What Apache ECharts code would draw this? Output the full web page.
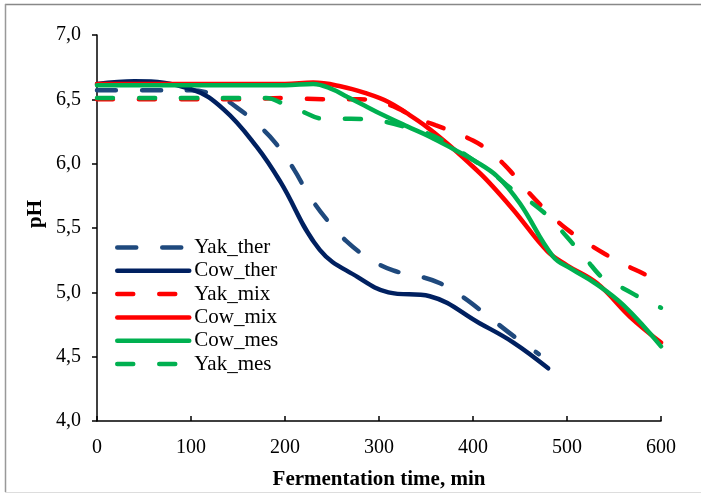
<!DOCTYPE html>
<html>
<head>
<meta charset="utf-8">
<script src="https://cdn.jsdelivr.net/npm/echarts@6/dist/echarts.min.js"></script>
<style>
html,body{margin:0;padding:0;background:#fff;}
#c{width:701px;height:495px;}
</style>
</head>
<body>
<div id="c"></div>
<script>
var seriesNames = ['Yak_ther','Cow_ther','Yak_mix','Cow_mix','Cow_mes','Yak_mes'];
var yakTher = [[0,6.57],[50,6.57],[100,6.57],[130,6.52],[150,6.43],[170,6.31],[190,6.16],[210,5.95],[225,5.76],[245,5.56],[265,5.40],[290,5.26],[315,5.17],[340,5.13],[365,5.07],[390,4.96],[415,4.82],[445,4.65],[470,4.52]];
var cowTher = [[0,6.62],[40,6.64],[100,6.58],[135,6.42],[170,6.13],[195,5.86],[237,5.33],[277,5.12],[310,5.00],[354,4.97],[407,4.76],[443,4.61],[480,4.41]];
var yakMix = [[0,6.50],[100,6.50],[150,6.50],[200,6.51],[240,6.50],[280,6.50],[300,6.48],[320,6.43],[340,6.35],[360,6.30],[400,6.18],[420,6.08],[440,5.94],[460,5.77],[480,5.62],[500,5.49],[520,5.39],[540,5.30],[560,5.22],[580,5.15],[600,5.08]];
var cowMix = [[0,6.62],[50,6.62],[100,6.62],[150,6.62],[200,6.62],[230,6.63],[260,6.60],[285,6.55],[310,6.48],[330,6.39],[350,6.29],[372,6.16],[395,6.01],[415,5.87],[443,5.64],[479,5.32],[500,5.21],[532,5.07],[567,4.81],[600,4.61]];
var cowMes = [[0,6.61],[100,6.61],[200,6.61],[230,6.62],[250,6.58],[266,6.52],[285,6.45],[301,6.39],[330,6.29],[354,6.21],[380,6.11],[400,6.03],[426,5.90],[450,5.69],[485,5.28],[505,5.18],[530,5.07],[560,4.90],[600,4.58]];
var yakMes = [[0,6.51],[50,6.51],[100,6.51],[150,6.51],[180,6.51],[200,6.46],[220,6.40],[240,6.35],[270,6.35],[290,6.34],[310,6.32],[330,6.28],[350,6.24],[370,6.17],[400,6.03],[420,5.93],[440,5.81],[460,5.71],[480,5.59],[500,5.43],[520,5.26],[540,5.10],[560,5.03],[580,4.95],[600,4.88]];

var FONT = '"Liberation Serif", "Times New Roman", serif';
var LW = 4.5;
function mk(name, data, color, dash) {
  return {
    name: name, type: 'line', data: data, smooth: 0.4, symbol: 'none',
    lineStyle: { color: color, width: LW, type: dash ? dash : 'solid', cap: 'round' },
    itemStyle: { color: color },
    z: 2
  };
}
var chart = echarts.init(document.getElementById('c'), null, {renderer: 'canvas'});
chart.setOption({
  animation: false,
  backgroundColor: '#fff',
  grid: { left: 97, right: 40, top: 35, bottom: 74, containLabel: false },
  xAxis: {
    type: 'value', min: 0, max: 600, interval: 100,
    name: 'Fermentation time, min', nameLocation: 'middle', nameGap: 48,
    nameTextStyle: { fontFamily: FONT, fontSize: 21, fontWeight: 'bold', color: '#000' },
    axisLine: { show: true, lineStyle: { color: '#000', width: 1.5 } },
    axisTick: { show: true, inside: true, length: 5, lineStyle: { color: '#000', width: 1.5 } },
    axisLabel: { fontFamily: FONT, fontSize: 20, color: '#000', margin: 17 },
    splitLine: { show: false }
  },
  yAxis: {
    type: 'value', min: 4, max: 7, interval: 0.5,
    axisLine: { show: true, lineStyle: { color: '#000', width: 1.5 } },
    axisTick: { show: true, inside: false, length: 5, lineStyle: { color: '#000', width: 1.5 } },
    axisLabel: { fontFamily: FONT, fontSize: 20, color: '#000', margin: 16,
      formatter: function (v) { return v.toFixed(1).replace('.', ','); } },
    splitLine: { show: false }
  },
  legend: {
    data: seriesNames, orient: 'vertical', left: 115, top: 237, padding: 0,
    itemWidth: 72, itemHeight: 14, itemGap: 2.3,
    itemStyle: { opacity: 0 },
    lineStyle: { width: LW, cap: 'round' },
    textStyle: { fontFamily: FONT, fontSize: 21, color: '#000', lineHeight: 20 }
  },
  graphic: [
    { type: 'line', shape: { x1: 5, y1: 4.5, x2: 701, y2: 4.5 }, style: { stroke: '#888', lineWidth: 1.5 } },
    { type: 'line', shape: { x1: 5.5, y1: 4, x2: 5.5, y2: 492 }, style: { stroke: '#999', lineWidth: 1.5 } },
    { type: 'line', shape: { x1: 5, y1: 492.5, x2: 701, y2: 492.5 }, style: { stroke: '#ddd', lineWidth: 1 } },
    { type: 'text', x: 36, y: 214, rotation: Math.PI / 2,
      style: { text: 'pH', font: 'bold 21px ' + FONT, fill: '#000', align: 'center', verticalAlign: 'middle' } }
  ],
  series: [
    mk('Yak_ther', yakTher, '#1F497D', [19, 26]),
    mk('Cow_ther', cowTher, '#002060'),
    mk('Yak_mix', yakMix, '#FF0000', [16, 26]),
    mk('Cow_mix', cowMix, '#FF0000'),
    mk('Cow_mes', cowMes, '#00B050'),
    mk('Yak_mes', yakMes, '#00B050', [16, 26])
  ]
});
</script>
</body>
</html>
